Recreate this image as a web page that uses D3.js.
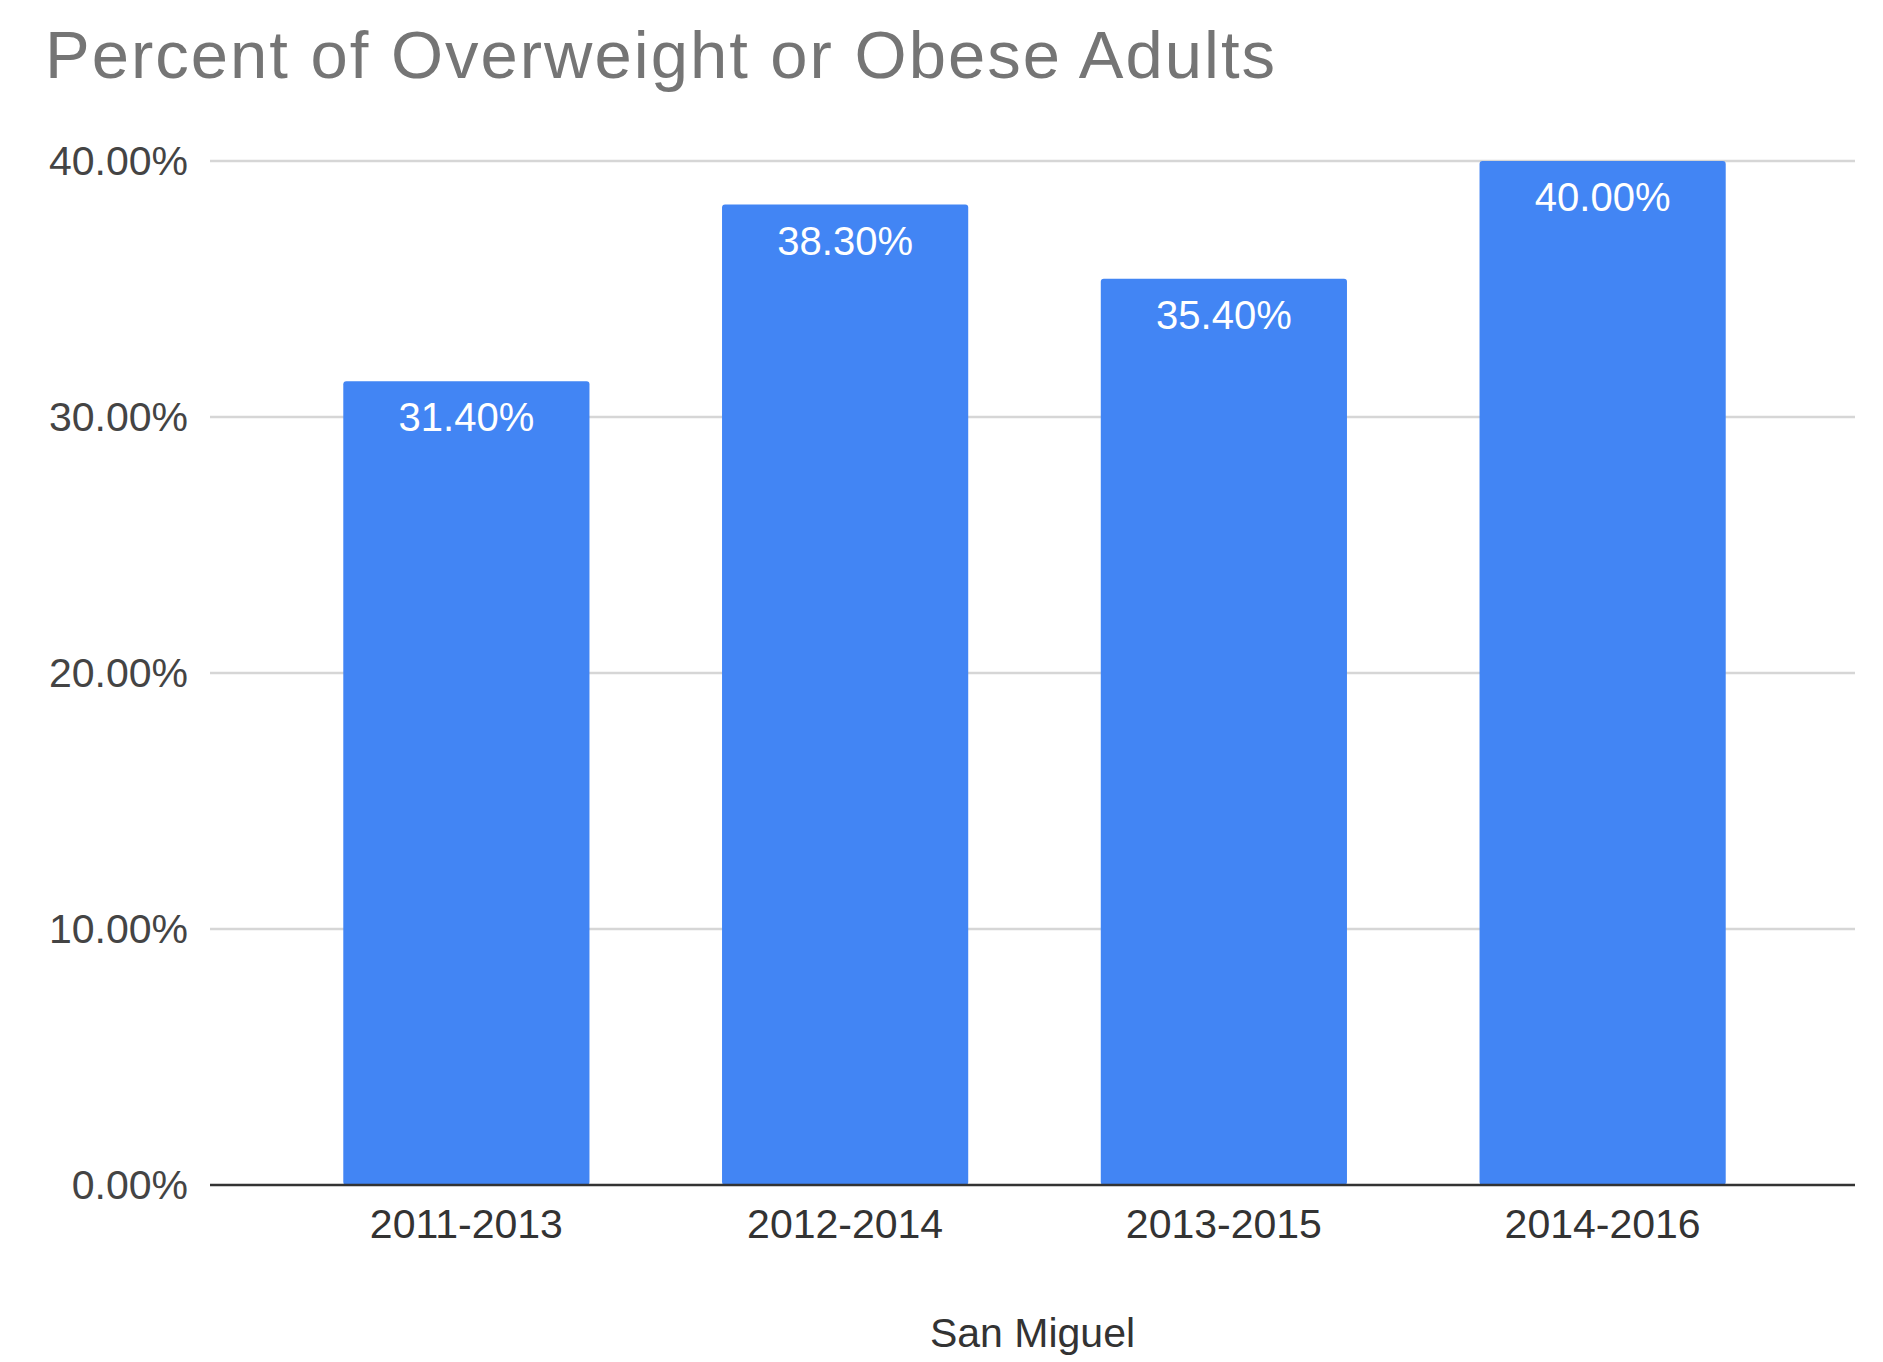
<!DOCTYPE html>
<html>
<head>
<meta charset="utf-8">
<script src="https://cdn.jsdelivr.net/npm/d3@7"></script>
<style>
  html, body { margin: 0; padding: 0; background: #fff; }
  text { font-family: "Liberation Sans", Arial, Helvetica, sans-serif; }
</style>
</head>
<body>
<svg id="chart" width="1883" height="1362"></svg>
<script>
const categories = ["2011-2013", "2012-2014", "2013-2015", "2014-2016"];
const values = [31.4, 38.3, 35.4, 40.0];
const yTicks = [0, 10, 20, 30, 40];
const title = "Percent of Overweight or Obese Adults";
const xTitle = "San Miguel";

const svg = d3.select("#chart");
const W = 1883, H = 1362;
const plot = { left: 210, right: 1855, top: 161, bottom: 1185 };

const y = d3.scaleLinear().domain([0, 40]).range([plot.bottom, plot.top]);
const x = d3.scaleBand().domain(categories).range([277, 1792]).paddingInner(0.35).paddingOuter(0.175);

const fmt = v => v.toFixed(2) + "%";

// title
svg.append("text")
  .attr("x", 45).attr("y", 78)
  .attr("font-size", 67).attr("fill", "#757575")
  .attr("textLength", 1230).attr("lengthAdjust", "spacing")
  .text(title);

// gridlines
const grid = svg.append("g");
yTicks.filter(t => t !== 0).forEach(t => {
  grid.append("line")
    .attr("x1", plot.left).attr("x2", plot.right)
    .attr("y1", y(t)).attr("y2", y(t))
    .attr("stroke", "#d6d6d6").attr("stroke-width", 2.5);
});

// y axis (labels only)
const yAxis = d3.axisLeft(y).tickValues(yTicks).tickFormat(fmt).tickSize(0).tickPadding(22);
const yg = svg.append("g").attr("transform", `translate(${plot.left},0)`).call(yAxis);
yg.select(".domain").remove();
yg.selectAll("text").attr("font-size", 41).attr("fill", "#444").attr("font-family", "\"Liberation Sans\", Arial, sans-serif");

// bars
svg.append("g").selectAll("rect")
  .data(categories)
  .join("rect")
  .attr("x", d => x(d))
  .attr("y", (d, i) => y(values[i]))
  .attr("width", x.bandwidth())
  .attr("height", (d, i) => y(0) - y(values[i]))
  .attr("rx", 3)
  .attr("fill", "#4285F4");

// data labels
svg.append("g").selectAll("text")
  .data(categories)
  .join("text")
  .attr("x", d => x(d) + x.bandwidth() / 2)
  .attr("y", (d, i) => y(values[i]) + 50)
  .attr("text-anchor", "middle")
  .attr("font-size", 40)
  .attr("fill", "#ffffff")
  .text((d, i) => fmt(values[i]));

// baseline
svg.append("line")
  .attr("x1", plot.left).attr("x2", plot.right)
  .attr("y1", y(0)).attr("y2", y(0))
  .attr("stroke", "#333").attr("stroke-width", 2.5);

// x axis labels
const xAxis = d3.axisBottom(x).tickSize(0).tickPadding(24);
const xg = svg.append("g").attr("transform", `translate(0,${plot.bottom})`).call(xAxis);
xg.select(".domain").remove();
xg.selectAll("text").attr("font-size", 41).attr("fill", "#333").attr("font-family", "\"Liberation Sans\", Arial, sans-serif");

// x axis title
svg.append("text")
  .attr("x", (plot.left + plot.right) / 2).attr("y", 1347)
  .attr("text-anchor", "middle")
  .attr("font-size", 41).attr("fill", "#333")
  .text(xTitle);
</script>
</body>
</html>
